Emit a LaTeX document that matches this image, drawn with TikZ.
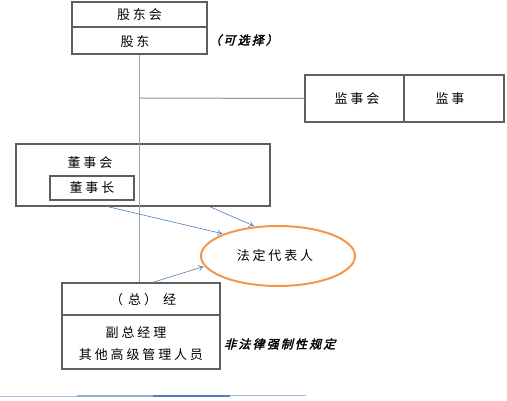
\documentclass[tikz,border=0pt]{standalone}
\usepackage{fontspec}
\newfontfamily\cjk[LetterSpace=22]{Noto Sans CJK SC}
\newfontfamily\cjkbi[FakeSlant=0.25,FakeBold=2.5,LetterSpace=18]{Noto Sans CJK SC}
\usetikzlibrary{shapes.geometric,arrows.meta}
\definecolor{boxgray}{HTML}{5F5F5F}
\definecolor{linegray}{HTML}{A0A0A0}
\definecolor{arrblue}{HTML}{4A7EBB}
\definecolor{orng}{HTML}{F79646}
\tikzset{
  box/.style={draw=boxgray, line width=1.1pt, rectangle, inner sep=0pt},
  txt/.style={font=\cjk\fontsize{13}{15}\selectfont, inner sep=0pt, text=black},
  note/.style={font=\cjkbi\fontsize{12}{14}\selectfont, inner sep=0pt, anchor=west},
  arr/.style={draw=arrblue, line width=0.6pt, -{To[length=5pt,width=6pt]}},
  conn/.style={draw=linegray, line width=1.4pt},
}
\begin{document}
\begin{tikzpicture}[x=1pt,y=-1pt]
\useasboundingbox (0,0) rectangle (507,401);
% shareholders
\node[box, minimum width=135pt, minimum height=25pt] (gdh) at (139.5,14.5) {};
\node[txt] (gdht) at (139.5,14.5) {股东会};
\node[box, minimum width=135pt, minimum height=27pt] (gd) at (139.5,40.5) {};
\node[txt] (gdt) at (135,42) {股东};
\node[note] (opt) at (209,40) {（可选择）};
% supervisors
\node[box, minimum width=99pt, minimum height=47pt] (jsh) at (354.5,98.5) {};
\node[txt] (jsht) at (357,98.5) {监事会};
\node[box, minimum width=100pt, minimum height=47pt] (js) at (454,98.5) {};
\node[txt] (jst) at (450,98.5) {监事};
% board
\node[box, minimum width=254pt, minimum height=62pt] (board) at (143,175) {};
\node[txt] (boardt) at (90,163) {董事会};
\node[box, minimum width=84pt, minimum height=24pt] (chair) at (92,188) {};
\node[txt] (chairt) at (92,188) {董事长};
% manager
\node[box, minimum width=158pt, minimum height=32pt] (mgr) at (141,299) {};
\node[txt, anchor=west] (mgrt) at (110,300) {（\hspace{5pt}总\hspace{3pt}）\hspace{6pt}经};
\node[box, minimum width=158pt, minimum height=54pt] (mgrb) at (141,342) {};
\node[txt] (vgm) at (136,333) {副总经理};
\node[txt] (oth) at (141,355) {其他高级管理人员};
\node[note] (nl) at (224,344) {非法律强制性规定};
% legal representative
\node[draw=orng, line width=2pt, ellipse, minimum width=154pt, minimum height=60pt, inner sep=0pt] (legal) at (278,256) {};
\node[txt] (legalt) at (275,256) {法定代表人};
% connectors
\draw[conn] (gd.south) -- (gd.south |- mgr.north);
\coordinate (j) at (140,98);
\draw[draw=linegray!90!black, line width=1pt] (j) -- (jsh.west);
% arrows
\draw[arr, shorten >=1pt] ([xshift=92pt]board.south west) -- (legal.158);
\draw[arr, shorten >=1pt] ([xshift=194pt]board.south west) -- (legal.128);
\draw[arr, shorten >=1pt] ([xshift=91pt]mgr.north west) -- (legal.188);
% bottom rule
\draw[draw={rgb,255:red,166;green,189;blue,219}, line width=1.6pt] (0,396.5) -- (77,396.5);
\draw[draw={rgb,255:red,141;green,176;blue,220}, line width=1.4pt] (77,396.2) -- (153,396.2);
\draw[draw={rgb,255:red,79;green,129;blue,189}, line width=1.2pt] (153,396) -- (230,396);
\draw[draw={rgb,255:red,156;green,185;blue,224}, line width=1.2pt] (230,395.3) -- (306,395.3);
\end{tikzpicture}
\end{document}
